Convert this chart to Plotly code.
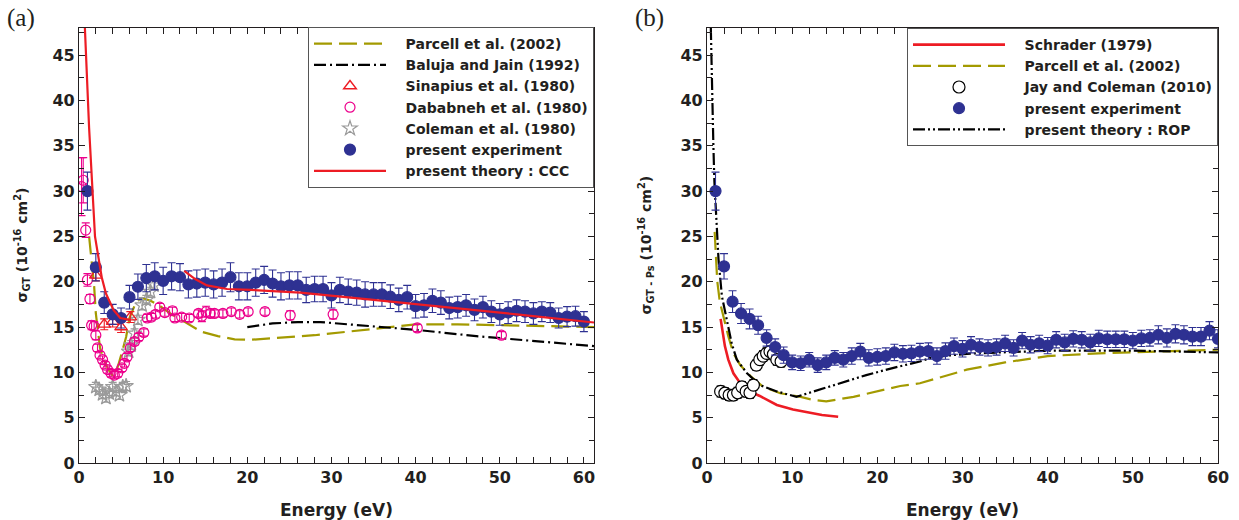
import plotly.graph_objects as go

# ---------------- Panel (a) data ----------------
exp_a_E = list(range(1, 61))
exp_a_s = [30.0, 21.6, 17.7, 16.4, 16.0, 18.3, 19.45, 20.4, 20.6, 20.1,
           20.6, 20.5, 19.7, 19.8, 19.9, 19.7, 19.9, 20.5, 19.5, 19.5,
           19.9, 20.2, 19.8, 19.5, 19.6, 19.6, 19.1, 19.2, 19.2, 18.5,
           19.1, 18.9, 18.8, 18.6, 18.6, 18.6, 18.35, 18.0, 18.3, 17.3,
           17.4, 17.9, 17.7, 17.1, 17.2, 17.4, 16.9, 17.2, 16.7, 16.4,
           16.6, 16.8, 16.7, 16.5, 16.7, 16.6, 16.0, 16.15, 16.2, 15.6]
exp_a_err = [2.1, 1.5, 1.2, 1.1, 1.1, 1.3, 1.4, 1.5, 1.5, 1.5,
             1.5, 1.5, 1.5, 1.5, 1.5, 1.5, 1.5, 1.6, 1.5, 1.5,
             1.5, 1.5, 1.5, 1.5, 1.5, 1.5, 1.4, 1.4, 1.4, 1.4,
             1.4, 1.4, 1.4, 1.4, 1.3, 1.3, 1.3, 1.3, 1.3, 1.3,
             1.3, 1.3, 1.3, 1.2, 1.2, 1.2, 1.2, 1.2, 1.2, 1.2,
             1.2, 1.2, 1.2, 1.2, 1.1, 1.1, 1.1, 1.1, 1.1, 1.1]

ccc1_E = [0.7, 1.2, 1.9, 2.2, 2.7, 3.2, 4.1, 4.9, 6.1]
ccc1_s = [48.0, 37.0, 25.0, 23.3, 20.5, 18.7, 16.9, 16.0, 15.8]
ccc2_E = [12.5, 13.8, 15.2, 17.6, 20.4, 26.3, 35.0, 43.8, 52.0, 61.2]
ccc2_s = [21.2, 20.3, 19.6, 19.2, 19.1, 18.8, 18.0, 17.2, 16.4, 15.5]

parcell_a_E = [1.2, 1.5, 1.8, 2.0, 2.5, 3.0, 3.5, 4.1, 4.6, 5.1, 5.6, 6.0, 6.8,
               7.5, 8.5, 9.5, 11.0, 12.5, 14.5, 16.5, 18.5, 20.5, 24.0, 28.0,
               32.0, 36.0, 40.0, 45.0, 50.0, 55.0, 61.2]
parcell_a_s = [25.0, 22.5, 19.5, 16.5, 12.7, 11.3, 10.3, 9.5, 10.6, 12.2, 13.9,
               16.0, 17.8, 18.2, 17.9, 17.4, 16.4, 15.6, 14.5, 14.0, 13.65, 13.6,
               13.8, 14.1, 14.5, 14.9, 15.3, 15.3, 15.2, 15.1, 15.0]

baluja_E = [20.0, 23.0, 26.0, 28.7, 32.0, 35.6, 40.0, 47.2, 54.0, 61.2]
baluja_s = [15.0, 15.4, 15.55, 15.55, 15.3, 15.0, 14.7, 14.0, 13.5, 12.9]

sinapius_E = [2.0, 3.0, 4.0, 5.0, 6.1]
sinapius_s = [20.7, 15.3, 15.6, 15.0, 16.1]
sinapius_err = [0.6, 0.6, 0.6, 0.6, 0.6]

dababneh_E = [0.3, 0.5, 0.8, 1.0, 1.3, 1.5, 1.8, 2.0, 2.2, 2.5, 2.8, 3.1, 3.4,
              3.8, 4.2, 4.6, 5.1, 5.4, 5.7, 6.1, 6.6, 7.1, 7.7, 8.1, 8.6, 9.1,
              9.6, 10.2, 11.1, 11.4, 12.2, 13.1, 14.2, 14.6, 15.1, 15.6, 16.1,
              17.1, 18.1, 19.1, 20.1, 22.1, 25.1, 30.2, 40.2, 50.2]
dababneh_s = [30.5, 31.2, 25.7, 20.2, 18.1, 15.2, 15.1, 14.1, 12.7, 11.9, 11.4,
              10.8, 10.3, 9.9, 9.7, 9.9, 10.5, 11.0, 11.7, 12.7, 13.4, 13.9,
              14.4, 16.0, 16.1, 16.4, 17.2, 16.6, 16.8, 16.0, 16.1, 16.0, 16.5,
              16.2, 16.7, 16.5, 16.5, 16.5, 16.7, 16.4, 16.7, 16.7, 16.3, 16.4,
              14.9, 14.1]
dababneh_err = [3.2, 2.5, 0.8, 0.7, 0.5, 0.5, 0.5, 0.5, 0.4, 0.4, 0.4, 0.4, 0.4,
                0.4, 0.4, 0.4, 0.4, 0.4, 0.4, 0.4, 0.4, 0.4, 0.4, 0.4, 0.4, 0.4,
                0.4, 0.4, 0.4, 0.4, 0.4, 0.4, 0.4, 0.6, 0.6, 0.4, 0.4, 0.4, 0.4,
                0.4, 0.4, 0.4, 0.5, 0.5, 0.4, 0.4]

coleman_E = [2.0, 2.4, 2.8, 3.2, 3.6, 4.0, 4.4, 4.8, 5.2, 5.6, 5.9, 6.2, 6.6,
             7.0, 7.5, 8.0, 8.5, 8.9]
coleman_s = [8.4, 8.1, 7.6, 7.2, 7.7, 8.4, 7.9, 7.5, 8.4, 8.5, 12.3, 13.0, 14.3,
             15.8, 17.4, 18.0, 18.9, 19.6]
coleman_err = [0.5] * 18

# ---------------- Panel (b) data ----------------
exp_b_E = list(range(1, 61))
exp_b_s = [30.0, 21.7, 17.8, 16.5, 15.9, 15.2, 13.8, 12.8, 11.9, 11.1,
           11.0, 11.4, 10.8, 11.1, 11.6, 11.4, 11.8, 12.3, 11.6, 11.7,
           11.8, 12.2, 12.05, 12.1, 12.3, 12.35, 11.8, 12.35, 12.9, 12.6,
           13.05, 12.8, 12.7, 12.8, 13.2, 12.7, 13.5, 13.05, 13.2, 12.95,
           13.6, 13.3, 13.7, 13.6, 13.3, 13.75, 13.65, 13.65, 13.65, 13.5,
           13.75, 13.8, 14.15, 13.8, 14.25, 14.15, 13.95, 13.95, 14.6, 13.7]
exp_b_err = [2.1, 1.4, 1.2, 1.1, 1.1, 1.0, 0.9, 0.9, 0.9, 0.8,
             0.8, 0.8, 0.8, 0.8, 0.8, 0.8, 0.9, 0.9, 0.9, 0.9,
             0.9, 0.9, 0.9, 0.9, 0.9, 0.9, 0.9, 0.9, 0.9, 0.9,
             0.9, 0.9, 0.9, 0.9, 0.9, 0.9, 0.9, 0.9, 0.9, 0.9,
             0.9, 0.9, 0.9, 0.9, 0.9, 0.9, 0.9, 0.9, 0.9, 0.9,
             0.9, 0.9, 1.0, 1.0, 1.0, 1.0, 1.0, 1.0, 1.0, 1.0]

schrader_E = [1.6, 1.85, 2.1, 2.5, 3.1, 3.9, 5.0, 6.2, 8.2, 10.1, 12.1, 13.5, 15.4]
schrader_s = [15.9, 14.3, 12.9, 11.4, 9.9, 8.8, 7.9, 7.4, 6.4, 5.9, 5.5, 5.3, 5.1]

parcell_b_E = [0.9, 1.05, 1.2, 1.5, 2.0, 2.5, 3.1, 3.9, 5.2, 6.6, 8.6, 11.0, 12.5,
               14.0, 17.2, 20.0, 22.7, 25.0, 30.5, 35.0, 40.0, 46.0, 50.0, 55.0, 60.0]
parcell_b_s = [25.5, 23.0, 20.1, 17.8, 15.8, 14.0, 12.1, 10.8, 9.5, 8.4, 7.7, 7.3,
               6.95, 6.8, 7.3, 7.9, 8.5, 8.8, 10.3, 11.1, 11.8, 12.1, 12.2, 12.3, 12.5]

jay_E = [1.6, 2.1, 2.6, 3.1, 3.6, 4.1, 4.6, 5.05, 5.45, 5.8, 6.2, 6.6, 7.0, 7.4,
         7.8, 8.2, 8.7]
jay_s = [7.9, 7.7, 7.5, 7.5, 7.75, 8.4, 7.9, 7.75, 8.6, 10.8, 11.4, 11.8, 12.1,
         12.3, 12.0, 11.4, 11.2]
jay_err = [0.6] * 17

rop_E = [0.45, 0.6, 0.75, 0.87, 1.15, 1.35, 1.75, 2.2, 2.9, 3.5, 4.7, 6.2, 8.2,
         10.5, 12.5, 14.8, 18.7, 21.9, 25.0, 26.6, 30.5, 34.4, 40.6, 50.0, 60.0]
rop_s = [48.0, 40.2, 35.0, 31.0, 25.4, 22.5, 18.4, 16.4, 13.2, 11.4, 9.9, 8.6, 7.9,
         7.3, 7.9, 8.6, 9.7, 10.5, 11.2, 11.7, 12.05, 12.2, 12.4, 12.4, 12.2]

# ---------------- styling ----------------
W, H = 1239, 520
NAVY = '#2E3192'
RED = '#ED1C24'
OLIVE = '#A39A00'
MAGENTA = '#EC008C'
GRAY = '#9A9A9A'
INK = '#231F20'
FONT = 'DejaVu Sans'
PAD = '\u00a0\u00a0\u00a0'

fig = go.Figure()

def line(x, y, name, color, dash, xa, ya, leg, rank, show=True, width=2.2):
    fig.add_trace(go.Scatter(x=x, y=y, mode='lines', name=PAD + name,
                             line=dict(color=color, width=width, dash=dash),
                             xaxis=xa, yaxis=ya, legend=leg, legendrank=rank,
                             showlegend=show, cliponaxis=True))

def pts(x, y, err, name, symbol, color, fill, size, errcolor, xa, ya, leg, rank, lw=1.2):
    fig.add_trace(go.Scatter(x=x, y=y, mode='markers', name=PAD + name,
                             marker=dict(symbol=symbol, size=size, color=fill,
                                         line=dict(color=color, width=lw)),
                             error_y=dict(type='data', array=err, color=errcolor,
                                          thickness=1.1, width=4),
                             xaxis=xa, yaxis=ya, legend=leg, legendrank=rank))

# panel (a)
line(parcell_a_E, parcell_a_s, 'Parcell et al. (2002)', OLIVE, '18px,7px', 'x', 'y', 'legend', 1)
line(baluja_E, baluja_s, 'Baluja and Jain (1992)', 'black', '12px,4px,2px,4px', 'x', 'y', 'legend', 2)
pts(coleman_E, coleman_s, coleman_err, 'Coleman et al. (1980)', 'star-open', GRAY, GRAY, 11, GRAY,
    'x', 'y', 'legend', 5)
pts(dababneh_E, dababneh_s, dababneh_err, 'Dababneh et al. (1980)', 'circle-open', MAGENTA, MAGENTA, 10,
    MAGENTA, 'x', 'y', 'legend', 4)
pts(sinapius_E, sinapius_s, sinapius_err, 'Sinapius et al. (1980)', 'triangle-up-open', RED, RED, 11,
    RED, 'x', 'y', 'legend', 3, lw=1.4)
pts(exp_a_E, exp_a_s, exp_a_err, 'present experiment', 'circle', NAVY, NAVY, 11, NAVY,
    'x', 'y', 'legend', 6)
line(ccc1_E, ccc1_s, 'present theory : CCC', RED, 'solid', 'x', 'y', 'legend', 7)
line(ccc2_E, ccc2_s, 'present theory : CCC', RED, 'solid', 'x', 'y', 'legend', 8, show=False)

# panel (b)
line(schrader_E, schrader_s, 'Schrader (1979)', RED, 'solid', 'x2', 'y2', 'legend2', 1, width=2.6)
line(parcell_b_E, parcell_b_s, 'Parcell et al. (2002)', OLIVE, '18px,7px', 'x2', 'y2', 'legend2', 2)
line(rop_E, rop_s, 'present theory : ROP', 'black', '12px,3px,2px,3px,2px,3px', 'x2', 'y2', 'legend2', 5)
pts(jay_E, jay_s, jay_err, 'Jay and Coleman (2010)', 'circle', 'black', 'white', 12, 'black',
    'x2', 'y2', 'legend2', 3)
pts(exp_b_E, exp_b_s, exp_b_err, 'present experiment', 'circle', NAVY, NAVY, 11, NAVY,
    'x2', 'y2', 'legend2', 4)

tickfont = dict(family=FONT, size=16, color=INK, weight='bold')
titlefont = dict(family=FONT, size=17, color=INK, weight='bold')
ytitlefont = dict(family=FONT, size=14, color=INK, weight='bold')

def xax(domain, rng, anchor):
    return dict(domain=domain, range=rng, anchor=anchor, showgrid=False, zeroline=False,
                automargin=False,
                showline=True, linecolor=INK, linewidth=1.3, mirror='allticks',
                ticks='inside', ticklen=6, tickwidth=1.1, tickcolor=INK, dtick=10, tick0=0,
                minor=dict(dtick=2, ticks='inside', ticklen=6, tickwidth=1.1, tickcolor=INK),
                tickfont=tickfont, title=dict(text='Energy (eV)', font=titlefont, standoff=17))

def yax(domain, anchor):
    return dict(domain=domain, range=[0, 48], anchor=anchor, showgrid=False, zeroline=False,
                automargin=False,
                showline=True, linecolor=INK, linewidth=1.3, mirror='allticks',
                ticks='inside', ticklen=6, tickwidth=1.1, tickcolor=INK, dtick=5, tick0=0,
                minor=dict(dtick=2.5, ticks='inside', ticklen=5, tickwidth=1.1, tickcolor=INK),
                tickfont=tickfont)

ydom = [1 - 463 / H, 1 - 28 / H]
ymid = (ydom[0] + ydom[1]) / 2

fig.update_layout(
    width=W, height=H, margin=dict(l=0, r=0, t=0, b=0, autoexpand=False),
    paper_bgcolor='white', plot_bgcolor='white',
    xaxis=xax([79 / W, 594 / W], [0, 61.2], 'y'),
    yaxis=yax(ydom, 'x'),
    xaxis2=xax([707 / W, 1218 / W], [0, 60], 'y2'),
    yaxis2=yax(ydom, 'x2'),
    legend=dict(x=594 / W, y=1 - 27 / H, xanchor='right', yanchor='top',
                bgcolor='white', bordercolor='#555555', borderwidth=1,
                font=dict(family=FONT, size=14, color=INK, weight='bold'),
                itemwidth=72, tracegroupgap=0),
    legend2=dict(x=1218 / W, y=1 - 28 / H, xanchor='right', yanchor='top',
                 bgcolor='white', bordercolor='#555555', borderwidth=1,
                 font=dict(family=FONT, size=14, color=INK, weight='bold'),
                 itemwidth=92, tracegroupgap=0),
    annotations=[
        dict(text='(a)', x=5 / W, y=1 - 2 / H, xref='paper', yref='paper',
             xanchor='left', yanchor='top', showarrow=False,
             font=dict(family='Liberation Serif', size=25, color=INK)),
        dict(text='(b)', x=633 / W, y=1 - 2 / H, xref='paper', yref='paper',
             xanchor='left', yanchor='top', showarrow=False,
             font=dict(family='Liberation Serif', size=25, color=INK)),
        dict(text='σ<sub>GT</sub> (10<sup>-16</sup> cm<sup>2</sup>)',
             x=22 / W, y=ymid, xref='paper', yref='paper', textangle=-90,
             xanchor='center', yanchor='middle', showarrow=False, font=ytitlefont),
        dict(text='σ<sub>GT - Ps</sub> (10<sup>-16</sup> cm<sup>2</sup>)',
             x=646 / W, y=ymid, xref='paper', yref='paper', textangle=-90,
             xanchor='center', yanchor='middle', showarrow=False, font=ytitlefont),
    ],
)

fig.write_html('out.html', config={'displayModeBar': False},
               post_script="document.body.style.margin='0';document.body.style.padding='0';")
